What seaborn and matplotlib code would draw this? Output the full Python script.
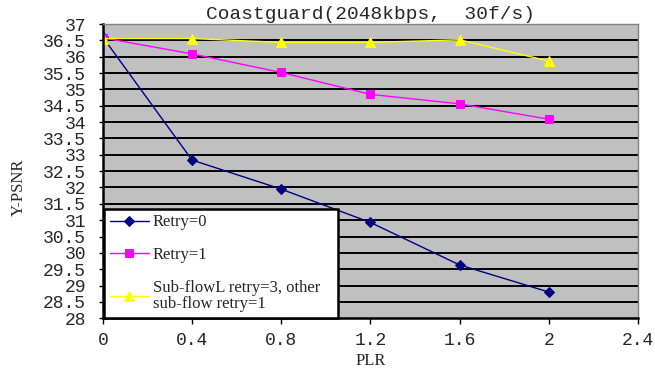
import matplotlib
matplotlib.use("Agg")
import matplotlib.pyplot as plt
import seaborn as sns
import numpy as np

plr = [0, 0.4, 0.8, 1.2, 1.6, 2]
retry0 = [36.6, 32.84, 31.95, 30.93, 29.63, 28.8]
retry1 = [36.58, 36.09, 35.52, 34.85, 34.56, 34.09]
subflow = [36.56, 36.56, 36.44, 36.44, 36.52, 35.87]
labels = ["Retry=0", "Retry=1", "Sub-flowL retry=3, other\nsub-flow retry=1"]
yticks = [28 + 0.5 * i for i in range(19)]
xticks = [0, 0.4, 0.8, 1.2, 1.6, 2, 2.4]

sns.set_style("white")
mono = "Liberation Mono"
serif = "Liberation Serif"

fig = plt.figure(figsize=(6.55, 3.77), dpi=100)
ax = fig.add_axes([0.157, 0.156, 0.817, 0.780])
ax.set_facecolor("#c0c0c0")

sns.lineplot(x=plr, y=retry0, ax=ax, color="#000080", marker="D", markersize=5,
             linewidth=1, label=labels[0], markeredgecolor="#000080")
sns.lineplot(x=plr, y=retry1, ax=ax, color="#ff00ff", marker="s", markersize=6,
             linewidth=1, label=labels[1], markeredgecolor="#ff00ff")
sns.lineplot(x=plr, y=subflow, ax=ax, color="#ffff00", marker="^", markersize=7,
             linewidth=1, label=labels[2], markeredgecolor="#ffff00")

ax.set_xlim(0, 2.4)
ax.set_ylim(28, 37)
ax.set_yticks(yticks)
ax.set_yticklabels([f"{v:g}" for v in yticks], fontfamily=mono, fontsize=13)
ax.set_xticks(xticks)
ax.set_xticklabels([f"{v:g}" for v in xticks], fontfamily=mono, fontsize=13)
for y in yticks[1:-1]:
    ax.axhline(y, color="black", linewidth=1.4, zorder=0.5)
ax.tick_params(axis="both", direction="out", color="black", width=1,
               left=True, bottom=True)
ax.tick_params(axis="y", length=3, pad=9)
ax.tick_params(axis="x", length=4, pad=6)
for s in ["left", "bottom"]:
    ax.spines[s].set_color("black")
    ax.spines[s].set_linewidth(1.8)
for s in ["top", "right"]:
    ax.spines[s].set_color("#808080")
    ax.spines[s].set_linewidth(1)

ax.set_title("Coastguard(2048kbps,  30f/s)", fontfamily=mono, fontsize=14, pad=4)
ax.set_xlabel("PLR", fontfamily=serif, fontsize=12, labelpad=3)
ax.set_ylabel("Y-PSNR", fontfamily=serif, fontsize=12)
ax.yaxis.set_label_coords(-0.143, 0.444)

leg = ax.legend(loc="lower left", bbox_to_anchor=(0.003, 0.0, 0.436, 0.37),
                mode="expand", frameon=True, fancybox=False, borderaxespad=0,
                prop={"family": serif, "size": 12}, labelspacing=1.0,
                handlelength=2.3, handletextpad=0.25, borderpad=0.35)
leg.get_texts()[2].set_linespacing(1.05)
leg.get_frame().set_edgecolor("black")
leg.get_frame().set_linewidth(1.8)
leg.get_frame().set_facecolor("white")
leg.get_frame().set_alpha(1)

fig.savefig("out.png", dpi=100)
